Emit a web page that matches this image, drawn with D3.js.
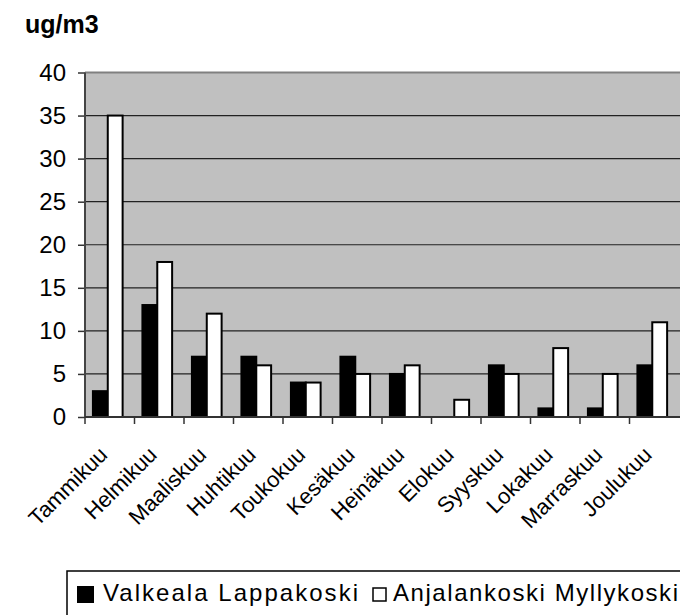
<!DOCTYPE html>
<html>
<head>
<meta charset="utf-8">
<script src="https://cdn.jsdelivr.net/npm/d3@7"></script>
<style>
  body { margin: 0; background: white; }
  text { font-family: "Liberation Sans", Arial, sans-serif; fill: black; }
</style>
</head>
<body>
<div id="chart"></div>
<script>
// data
var months = ["Tammikuu", "Helmikuu", "Maaliskuu", "Huhtikuu", "Toukokuu", "Kesäkuu",
              "Heinäkuu", "Elokuu", "Syyskuu", "Lokakuu", "Marraskuu", "Joulukuu"];
var valkeala = [3, 13, 7, 7, 4, 7, 5, null, 6, 1, 1, 6];
var anjalankoski = [35, 18, 12, 6, 4, 5, 6, 2, 5, 8, 5, 11];
var seriesNames = ["Valkeala Lappakoski", "Anjalankoski Myllykoski"];
var yTicks = [0, 5, 10, 15, 20, 25, 30, 35, 40];

var W = 680, H = 615;
var margin = {top: 72.5, right: 0, bottom: 198, left: 85};
var width = W - margin.left - margin.right,
    height = H - margin.top - margin.bottom;

var svg = d3.select("#chart").append("svg")
    .attr("width", W)
    .attr("height", H);

var g = svg.append("g")
    .attr("transform", "translate(" + margin.left + "," + margin.top + ")");

var x = d3.scaleBand().domain(months).range([0, 594]);
var y = d3.scaleLinear().domain([0, 40]).range([height, 0]);

// plot background
g.append("rect")
  .attr("x", 0).attr("y", 0)
  .attr("width", width).attr("height", height)
  .style("fill", "#c0c0c0");
g.append("line")
  .attr("x1", 0).attr("x2", width).attr("y1", 0).attr("y2", 0)
  .style("stroke", "#808080").style("stroke-width", 2);

// gridlines
g.selectAll(".grid")
  .data(yTicks.filter(function(d) { return d > 0 && d < 40; }))
  .enter().append("line")
    .attr("x1", 0).attr("x2", width)
    .attr("y1", function(d) { return y(d); })
    .attr("y2", function(d) { return y(d); })
    .style("stroke", "#222").style("stroke-width", 1.2);

// bars
var bw = x.bandwidth();
var barW = bw * 0.3, off = bw * 0.16;
var rows = months.map(function(m, i) { return {m: m, a: valkeala[i], b: anjalankoski[i]}; });

g.selectAll(".barA")
  .data(rows.filter(function(d) { return d.a != null && d.a > 0; }))
  .enter().append("rect")
    .attr("x", function(d) { return x(d.m) + off; })
    .attr("y", function(d) { return y(d.a); })
    .attr("width", barW)
    .attr("height", function(d) { return height - y(d.a); })
    .style("fill", "black").style("stroke", "black").style("stroke-width", 2);

g.selectAll(".barB")
  .data(rows)
  .enter().append("rect")
    .attr("x", function(d) { return x(d.m) + off + barW; })
    .attr("y", function(d) { return y(d.b); })
    .attr("width", barW)
    .attr("height", function(d) { return height - y(d.b); })
    .style("fill", "white").style("stroke", "black").style("stroke-width", 2);

// y axis
var yAxis = g.append("g")
  .call(d3.axisLeft(y).tickValues(yTicks).tickSize(7).tickPadding(12));
yAxis.selectAll("text").style("font-size", "24px");
yAxis.selectAll("line").style("stroke", "#333").style("stroke-width", 1.5);
yAxis.select(".domain").remove();
g.append("line")
  .attr("x1", 0).attr("x2", 0).attr("y1", 0).attr("y2", height)
  .style("stroke", "#444").style("stroke-width", 2);

// x axis (ticks at category boundaries)
var xa = g.append("g").attr("transform", "translate(0," + height + ")");
xa.append("line")
  .attr("x1", 0).attr("x2", width).attr("y1", 0).attr("y2", 0)
  .style("stroke", "#333").style("stroke-width", 2);
xa.selectAll(".tk")
  .data(months)
  .enter().append("line")
    .attr("x1", function(d) { return x(d); })
    .attr("x2", function(d) { return x(d); })
    .attr("y1", 0).attr("y2", 7)
    .style("stroke", "#333").style("stroke-width", 1.5);
xa.selectAll(".lbl")
  .data(months)
  .enter().append("text")
    .attr("transform", function(d) {
      return "translate(" + (x(d) + bw / 2 - 1) + ",39) rotate(-45)";
    })
    .attr("text-anchor", "end")
    .style("font-size", "22px")
    .text(function(d) { return d; });

// title
svg.append("text")
  .attr("x", 25).attr("y", 33)
  .style("font-size", "25px").style("font-weight", "bold")
  .text("ug/m3");

// legend
var lg = svg.append("g");
lg.append("rect")
  .attr("x", 67).attr("y", 571).attr("width", 640).attr("height", 80)
  .style("fill", "white").style("stroke", "black").style("stroke-width", 1.5);
lg.append("rect")
  .attr("x", 78).attr("y", 587).attr("width", 15).attr("height", 15)
  .style("fill", "black").style("stroke", "black").style("stroke-width", 2);
lg.append("text")
  .attr("x", 103).attr("y", 601)
  .style("font-size", "24px")
  .attr("textLength", 255).attr("lengthAdjust", "spacing")
  .text(seriesNames[0]);
lg.append("rect")
  .attr("x", 373).attr("y", 588).attr("width", 13).attr("height", 13)
  .style("fill", "white").style("stroke", "black").style("stroke-width", 1.5);
lg.append("text")
  .attr("x", 393).attr("y", 601)
  .style("font-size", "24px")
  .attr("textLength", 285).attr("lengthAdjust", "spacing")
  .text(seriesNames[1]);
</script>
</body>
</html>
